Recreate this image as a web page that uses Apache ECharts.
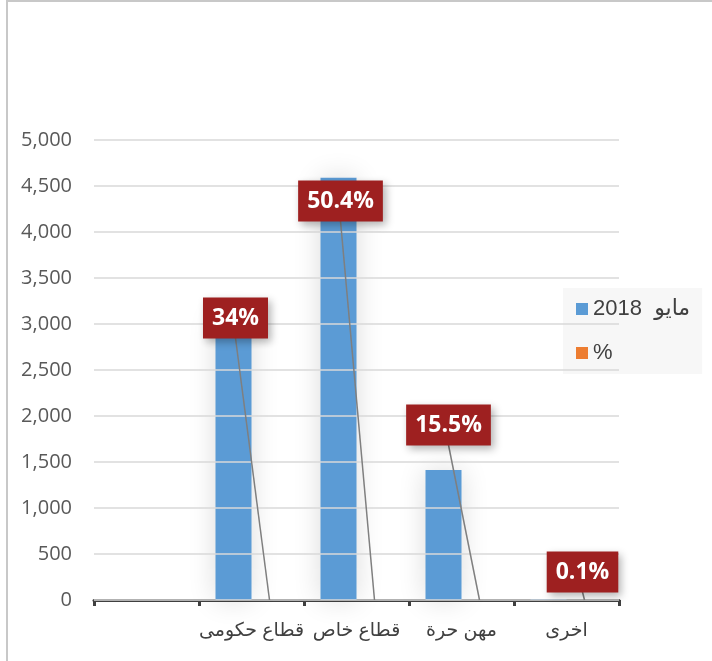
<!DOCTYPE html>
<html>
<head>
<meta charset="utf-8">
<script src="https://cdn.jsdelivr.net/npm/echarts@6/dist/echarts.min.js"></script>
<style>
  html, body { margin: 0; padding: 0; background: #fff; }
  #chart { width: 712px; height: 661px; }
</style>
</head>
<body>
<div id="chart"></div>
<script>
  // categories (first slot is empty in the original)
  const categories = ['', 'قطاع حكومى', 'قطاع خاص', 'مهن حرة', 'اخرى']
  // counts
  const mayValues = [null, 3096, 4590, 1412, 9]
  // share of total, shown as the red labels
  const pctValues = [null, 0.34, 0.504, 0.155, 0.001]
  const pctLabels = ['', '34%', '50.4%', '15.5%', '0.1%']
  const seriesNames = ['مايو  2018', '%']

  // where each red label was dragged to, in px from the foot of its % bar
  const labelDx = [0, -34, -34, -31, -2]
  const labelDy = [0, -282, -399, -175, -28]

  const chart = echarts.init(document.getElementById('chart'))
  const axisColor = '#404040'
  const font = "'Liberation Sans', 'DejaVu Sans', Arial, sans-serif"
  const barW = 36

  const option = {
    animation: false,
    textStyle: { fontFamily: font },
    graphic: [
      { type: 'line', shape: { x1: 7, y1: 0, x2: 7, y2: 661 }, style: { stroke: '#c8c8c8', lineWidth: 2 } },
      { type: 'line', shape: { x1: 6, y1: 1, x2: 712, y2: 1 }, style: { stroke: '#c8c8c8', lineWidth: 2 } }
    ],
    grid: { left: 94, right: 93, top: 140, bottom: 61 },
    legend: {
      orient: 'vertical',
      left: 563,
      top: 288,
      z: 1,
      backgroundColor: '#f7f7f7',
      padding: [10, 12, 10, 13],
      itemWidth: 12,
      itemHeight: 12,
      itemGap: 22,
      icon: 'rect',
      textStyle: { fontSize: 22, color: axisColor, fontFamily: font },
      data: seriesNames
    },
    xAxis: {
      type: 'category',
      data: categories,
      axisLine: { lineStyle: { color: axisColor, width: 3 } },
      axisTick: { show: true, length: 6, lineStyle: { color: axisColor, width: 3 } },
      axisLabel: { fontSize: 19, color: axisColor, margin: 21, interval: 0 }
    },
    yAxis: {
      type: 'value',
      min: 0,
      max: 5000,
      interval: 500,
      z: 5,
      axisLine: { show: false },
      axisTick: { show: false },
      axisLabel: {
        fontSize: 20,
        color: '#595959',
        margin: 22,
        fontFamily: "'Open Sans', sans-serif",
        formatter: v => v.toLocaleString('en-US')
      },
      splitLine: { lineStyle: { color: '#d9d9d9', width: 1.5 } }
    },
    series: [
      {
        name: seriesNames[0],
        type: 'bar',
        data: mayValues,
        barWidth: barW,
        barGap: '0%',
        itemStyle: {
          color: '#5B9BD5',
          shadowBlur: 28,
          shadowColor: 'rgba(0,0,0,0.14)'
        }
      },
      {
        name: seriesNames[1],
        type: 'bar',
        data: pctValues,
        barWidth: barW,
        itemStyle: { color: '#ED7D31' }
      },
      {
        // red call-out boxes with leader lines to the foot of each % bar
        name: 'labels',
        type: 'custom',
        z: 10,
        data: pctValues.map((v, i) => [i, v]).filter(d => d[1] != null),
        renderItem: (params, api) => {
          const i = api.value(0)
          const base = api.coord([i, 0])
          const footX = base[0] + barW / 2
          const footY = base[1]
          const cx = footX + labelDx[i]
          const cy = footY + labelDy[i]
          return {
            type: 'group',
            children: [
              {
                type: 'line',
                shape: { x1: cx, y1: cy + 20, x2: footX, y2: footY },
                style: { stroke: '#7f7f7f', lineWidth: 1.5 }
              },
              {
                type: 'text',
                x: cx,
                y: cy,
                style: {
                  text: pctLabels[i],
                  fill: '#fff',
                  font: "bold 23px 'Open Sans', 'DejaVu Sans', sans-serif",
                  lineHeight: 27,
                  align: 'center',
                  verticalAlign: 'middle',
                  backgroundColor: '#9E2020',
                  padding: [7, 9, 7, 9],
                  shadowBlur: 8,
                  shadowOffsetX: 3,
                  shadowOffsetY: 3,
                  shadowColor: 'rgba(0,0,0,0.3)'
                }
              }
            ]
          }
        }
      }
    ]
  }

  chart.setOption(option)
</script>
</body>
</html>
